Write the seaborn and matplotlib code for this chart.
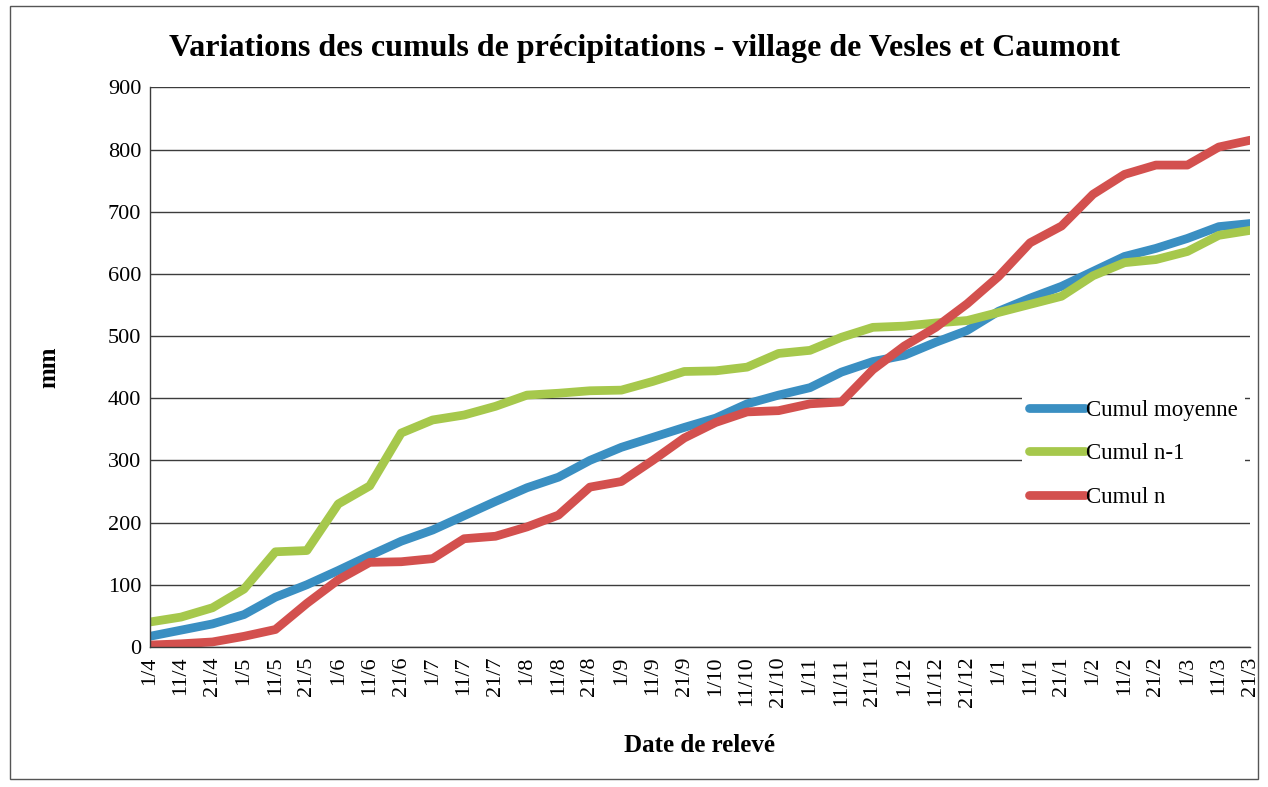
import numpy as np
import pandas as pd
import seaborn as sns
import matplotlib.pyplot as plt
from matplotlib.patches import Rectangle
from matplotlib.lines import Line2D

# %% Data (cumuls en mm, relevés tous les 10 jours)
dates = ["1/4", "11/4", "21/4", "1/5", "11/5", "21/5", "1/6", "11/6", "21/6",
         "1/7", "11/7", "21/7", "1/8", "11/8", "21/8", "1/9", "11/9", "21/9",
         "1/10", "11/10", "21/10", "1/11", "11/11", "21/11", "1/12", "11/12",
         "21/12", "1/1", "11/1", "21/1", "1/2", "11/2", "21/2", "1/3", "11/3",
         "21/3"]

cumul_moyenne = [17, 27, 37, 52, 80, 100, 123, 147, 170, 188, 211, 234,
                 256, 273, 300, 321, 337, 353, 368, 391, 405, 417, 442, 459,
                 469, 490, 509, 540, 561, 580, 604, 628, 641, 657, 676, 681]
cumul_n1 = [40, 48, 63, 93, 153, 155, 230, 259, 344, 365, 373, 387,
            405, 408, 412, 413, 427, 443, 444, 450, 472, 477, 498, 514,
            516, 521, 525, 538, 551, 564, 597, 618, 623, 636, 662, 670]
cumul_n = [3, 5, 8, 17, 28, 70, 108, 136, 137, 142, 174, 178,
           193, 212, 257, 266, 300, 336, 361, 378, 380, 391, 394, 446,
           484, 514, 552, 596, 650, 677, 728, 760, 775, 775, 804, 815]

series = ["Cumul moyenne", "Cumul n-1", "Cumul n"]
colors = ["#3a8fc2", "#a6c84c", "#d3504e"]

df = pd.DataFrame({"date": dates,
                   "Cumul moyenne": cumul_moyenne,
                   "Cumul n-1": cumul_n1,
                   "Cumul n": cumul_n})
long = df.melt(id_vars="date", var_name="serie", value_name="mm")

# %% Plot
sns.set_style("white")
plt.rcParams["font.family"] = ["Liberation Serif", "DejaVu Serif"]
plt.rcParams["text.color"] = "black"
plt.rcParams["xtick.color"] = "black"
plt.rcParams["ytick.color"] = "black"
plt.rcParams["axes.labelcolor"] = "black"

fig = plt.figure(figsize=(12.68, 7.87), dpi=100)
ax = fig.add_axes([0.118, 0.178, 0.868, 0.711])

sns.lineplot(data=long, x="date", y="mm", hue="serie", hue_order=series,
             palette=colors, linewidth=6.3, sort=False, ax=ax, legend=False)

ax.set_xlim(0, len(dates) - 1)
ax.set_ylim(0, 900)
ax.set_yticks(range(0, 901, 100))
ax.yaxis.grid(True, color="#3c3c3c", linewidth=1)
ax.xaxis.grid(False)
ax.set_axisbelow(True)

for s in ["top", "right"]:
    ax.spines[s].set_visible(False)
for s in ["left", "bottom"]:
    ax.spines[s].set_color("#3c3c3c")
    ax.spines[s].set_linewidth(1)

ax.tick_params(axis="both", which="both", direction="out", length=5,
               width=1, labelsize=16, pad=2)
ax.tick_params(axis="y", pad=1)
ax.set_xticks(range(len(dates)))
ax.set_xticklabels(dates, rotation=90)

ax.set_xlabel("Date de relevé", fontsize=18, fontweight="bold", labelpad=19)
ax.set_ylabel("mm", fontsize=18, fontweight="bold", labelpad=34)
fig.suptitle("Variations des cumuls de précipitations - village de Vesles et Caumont",
             x=0.508, y=0.957, fontsize=23, fontweight="bold")

handles = [Line2D([0], [0], color=c, linewidth=6.3) for c in colors]
leg = ax.legend(handles, series, loc="center left",
                bbox_to_anchor=(0.782, 0.345), fontsize=16.5, frameon=True,
                facecolor="white", edgecolor="none", framealpha=1,
                handlelength=2.45, handletextpad=0.05, labelspacing=0.98,
                borderpad=0.3)

# outer chart frame
fig.patches.append(Rectangle((0.008, 0.01), 0.984, 0.982,
                             transform=fig.transFigure, fill=False,
                             edgecolor="#555555", linewidth=1))

fig.savefig("out.png", dpi=100)
